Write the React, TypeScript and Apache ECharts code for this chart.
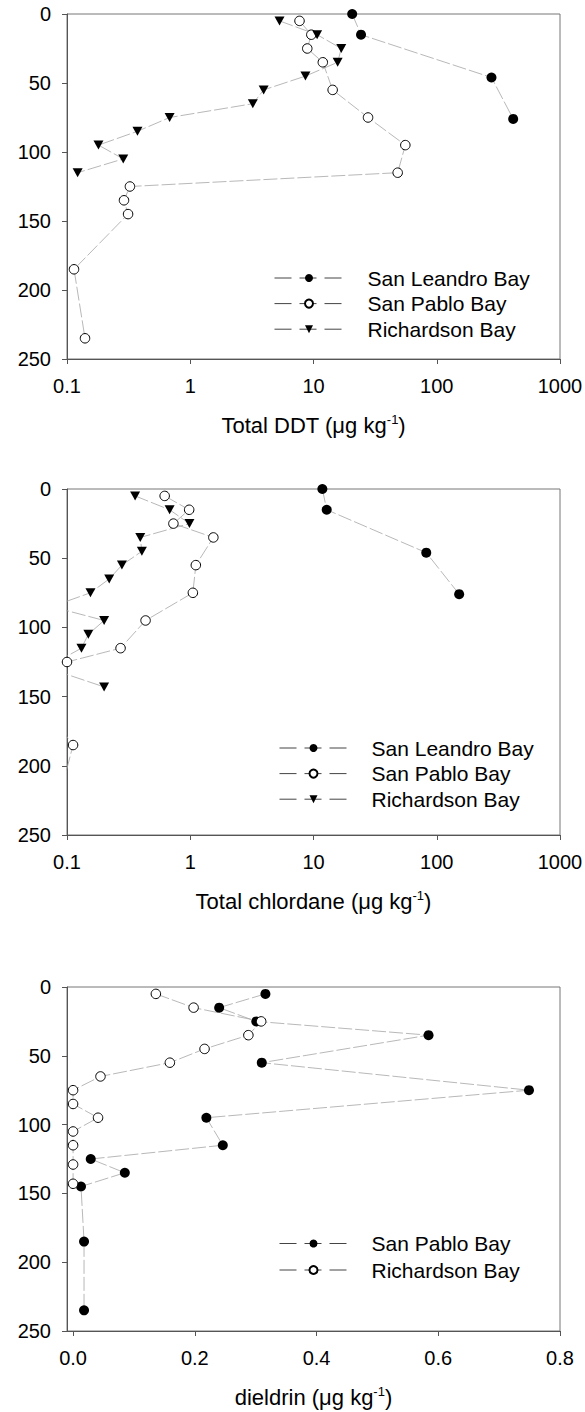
import React, { useEffect, useRef } from 'react';
import * as echarts from 'echarts';

const FONT = "'Liberation Sans', Arial, Helvetica, sans-serif";

// Bay names (legend labels)
const bayNames = ['San Leandro Bay', 'San Pablo Bay', 'Richardson Bay'];

// Depths (cm) of the cores
const depthSanLeandro = [0, 15, 46, 76];
const depthSanPablo = [5, 15, 25, 35, 55, 75, 95, 115, 125, 135, 145, 185, 235];
const depthRichardsonDDT = [5, 15, 25, 35, 45, 55, 65, 75, 85, 95, 105, 115];
const depthRichardson = [5, 15, 25, 35, 45, 55, 65, 75, 85, 95, 105, 115, 129, 143];

// Total DDT (µg/kg)
const ddtSanLeandro = [20.6, 24.3, 278, 417];
const ddtSanPablo = [7.7, 9.6, 8.9, 11.9, 14.3, 27.7, 55.6, 48.2, 0.324, 0.29, 0.313, 0.114, 0.14];
const ddtRichardson = [5.3, 10.7, 16.8, 15.7, 8.6, 3.94, 3.22, 0.68, 0.373, 0.18, 0.286, 0.122];

// Total chlordane (µg/kg) — values below 0.1 fall off the left of the axis
const chlordaneSanLeandro = [11.8, 12.8, 82.2, 152];
const chlordaneSanPablo = [0.62, 0.98, 0.73, 1.54, 1.11, 1.05, 0.434, 0.272, 0.1, 0.07, 0.052, 0.112, 0.08];
const chlordaneRichardson = [0.357, 0.68, 0.985, 0.393, 0.405, 0.279, 0.22, 0.155, 0.075, 0.2, 0.149, 0.131, 0.068, 0.2];

// Dieldrin (µg/kg)
const dieldrinSanPablo = [0.316, 0.24, 0.301, 0.584, 0.31, 0.749, 0.219, 0.246, 0.029, 0.085, 0.013, 0.018, 0.018];
const dieldrinRichardson = [0.136, 0.198, 0.309, 0.288, 0.216, 0.159, 0.045, 0, 0, 0.041, 0, 0, 0, 0];

// Tick labels
const depthTicks = [0, 50, 100, 150, 200, 250];
const logTicks = [0.1, 1, 10, 100, 1000];
const linearTicks = [0, 0.2, 0.4, 0.6, 0.8];

const axisTitles = [
  '{a|Total DDT (μg kg}{s|-1}{a|)}',
  '{a|Total chlordane (μg kg}{s|-1}{a|)}',
  '{a|dieldrin (μg kg}{s|-1}{a|)}',
];

const pairs = (xs: number[], ds: number[]) => xs.map((v, i) => [v, ds[i]]);

const TRI = 'path://M0,0L10,0L5,9Z';

const lineStyle = { color: '#a6a6a6', width: 0.8, type: [14, 3] as any };

const filled = {
  symbol: 'circle',
  symbolSize: 10,
  itemStyle: { color: '#000', borderColor: '#000', borderWidth: 0 },
};
const open = {
  symbol: 'circle',
  symbolSize: 9.5,
  itemStyle: { color: '#fff', borderColor: '#000', borderWidth: 1 },
};
const tri = {
  symbol: TRI,
  symbolSize: [10, 9],
  itemStyle: { color: '#000', borderWidth: 0 },
};

function App() {
  const ref = useRef<HTMLDivElement>(null);

  useEffect(() => {
    document.body.style.margin = '0';
    const chart = echarts.init(ref.current!, null, { renderer: 'svg' });

    const labelMap: Record<string, string> = {};

    const mk = (id: string, label: string, idx: number, data: number[][], marker: any) => {
      labelMap[id] = label;
      return {
        type: 'line',
        name: id,
        xAxisIndex: idx,
        yAxisIndex: idx,
        data,
        ...marker,
        lineStyle,
        clip: true,
        emphasis: { disabled: true },
        silent: true,
      };
    };

    const series = [
      mk('ddt-slb', bayNames[0], 0, pairs(ddtSanLeandro, depthSanLeandro), filled),
      mk('ddt-sp', bayNames[1], 0, pairs(ddtSanPablo, depthSanPablo), open),
      mk('ddt-rb', bayNames[2], 0, pairs(ddtRichardson, depthRichardsonDDT), tri),
      mk('chl-slb', bayNames[0], 1, pairs(chlordaneSanLeandro, depthSanLeandro), filled),
      mk('chl-sp', bayNames[1], 1, pairs(chlordaneSanPablo, depthSanPablo), open),
      mk('chl-rb', bayNames[2], 1, pairs(chlordaneRichardson, depthRichardson), tri),
      mk('die-sp', bayNames[1], 2, pairs(dieldrinSanPablo, depthSanPablo), filled),
      mk('die-rb', bayNames[2], 2, pairs(dieldrinRichardson, depthRichardson), open),
    ];

    const grids = [
      { left: 67, top: 14, width: 493, height: 345 },
      { left: 67, top: 489, width: 493, height: 346 },
      { left: 67, top: 987, width: 493, height: 344 },
    ].map((g) => ({
      ...g,
      show: true,
      borderColor: '#777',
      borderWidth: 1,
      backgroundColor: 'transparent',
      containLabel: false,
      outerBoundsMode: 'none',
    }));

    const axisLine = { show: true, onZero: false, lineStyle: { color: '#555', width: 1 } };
    const axisTick = { show: true, inside: false, length: 5, lineStyle: { color: '#555', width: 1 } };

    const nameStyle = {
      fontFamily: FONT,
      fontSize: 22,
      color: '#000',
      rich: {
        a: { fontFamily: FONT, fontSize: 22, color: '#000', lineHeight: 24 },
        s: { fontFamily: FONT, fontSize: 13, color: '#000', lineHeight: 13, verticalAlign: 'top' },
      },
    };

    const yAxes = [0, 1, 2].map((i) => ({
      type: 'value',
      gridIndex: i,
      inverse: true,
      min: depthTicks[0],
      max: depthTicks[depthTicks.length - 1],
      interval: depthTicks[1] - depthTicks[0],
      axisLine,
      axisTick,
      splitLine: { show: false },
      axisLabel: { fontFamily: FONT, fontSize: 20, color: '#000', margin: 16 },
    }));

    const fmtLog = (v: number) => String(Number(Number(v).toPrecision(3)));

    const xAxes: any[] = [0, 1].map((i) => ({
      type: 'log',
      logBase: 10,
      gridIndex: i,
      min: logTicks[0],
      max: logTicks[logTicks.length - 1],
      axisLine,
      axisTick,
      minorTick: { show: false },
      splitLine: { show: false },
      axisLabel: { fontFamily: FONT, fontSize: 20, color: '#000', margin: 17, formatter: fmtLog, showMinLabel: true, showMaxLabel: true },
      name: axisTitles[i],
      nameLocation: 'middle',
      nameGap: 54,
      nameTextStyle: nameStyle,
    }));
    xAxes.push({
      type: 'value',
      gridIndex: 2,
      min: -0.01,
      max: linearTicks[linearTicks.length - 1],
      axisLine,
      axisTick: { ...axisTick, customValues: linearTicks },
      splitLine: { show: false },
      axisLabel: {
        fontFamily: FONT,
        fontSize: 20,
        color: '#000',
        margin: 17,
        customValues: linearTicks,
        formatter: (v: number) => Number(v).toFixed(1),
      },
      name: axisTitles[2],
      nameLocation: 'middle',
      nameGap: 54,
      nameTextStyle: nameStyle,
    });

    const legendBase = {
      orient: 'vertical',
      padding: 0,
      itemHeight: 10,
      selectedMode: false,
      formatter: (n: string) => labelMap[n] ?? n,
      textStyle: { fontFamily: FONT, fontSize: 21, color: '#000', lineHeight: 21, padding: [0, 0, 0, 19] },
      lineStyle: { color: '#444', width: 1, type: [17, 8] },
    };

    const legends = [
      { ...legendBase, data: ['ddt-slb', 'ddt-sp', 'ddt-rb'], left: 274, top: 267.5, itemWidth: 69, itemGap: 4.6 },
      { ...legendBase, data: ['chl-slb', 'chl-sp', 'chl-rb'], left: 279, top: 737.5, itemWidth: 68, itemGap: 4.6 },
      { ...legendBase, data: ['die-sp', 'die-rb'], left: 279, top: 1233, itemWidth: 68, itemGap: 5.5 },
    ];

    chart.setOption({
      animation: false,
      backgroundColor: '#fff',
      textStyle: { fontFamily: FONT },
      grid: grids,
      xAxis: xAxes,
      yAxis: yAxes,
      legend: legends,
      series,
    });

    return () => chart.dispose();
  }, []);

  return (
    <div
      ref={ref}
      style={{ position: 'absolute', left: 0, top: 0, width: 585, height: 1412 }}
    />
  );
}

export default App;
